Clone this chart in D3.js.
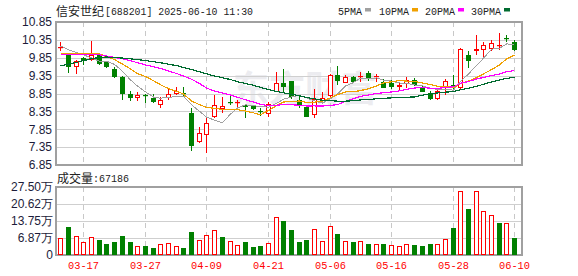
<!DOCTYPE html>
<html>
<head>
<meta charset="utf-8">
<title>信安世纪 日K</title>
<script src="https://d3js.org/d3.v7.min.js"></script>
<style>
  body { margin: 0; background: #fff; }
  svg { display: block; }
  .num { font-family: "Liberation Sans", Arial, sans-serif; font-size: 12px; fill: #1c1c3a; }
  .mono { font-family: "Liberation Mono", "DejaVu Sans Mono", monospace; font-size: 11px; fill: #222; }
  .cjk { font-family: "Noto Sans CJK SC", sans-serif; font-size: 12px; fill: #222; }
</style>
</head>
<body>
<div id="chart"></div>
<script>
// trading days shown
var dates = ["03-12","03-13","03-14","03-17","03-18","03-19","03-20","03-21","03-24","03-25",
  "03-26","03-27","03-28","03-31","04-01","04-02","04-03","04-07","04-08","04-09",
  "04-10","04-11","04-14","04-15","04-16","04-17","04-18","04-21","04-22","04-23",
  "04-24","04-25","04-28","04-29","04-30","05-06","05-07","05-08","05-09","05-12",
  "05-13","05-14","05-15","05-16","05-19","05-20","05-21","05-22","05-23","05-26",
  "05-27","05-28","05-29","05-30","06-03","06-04","06-05","06-06","06-09","06-10"];

var open = [10.14, 9.97, 9.58, 9.83, 9.78, 9.93, 9.72, 9.54, 9.32, 8.84,
  8.72, 8.82, 8.72, 8.53, 8.72, 8.84, 8.87, 8.31, 7.50, 7.68,
  8.20, 8.43, 8.61, 8.58, 8.53, 8.50, 8.35, 8.27, 8.90, 9.15,
  9.20, 8.67, 8.48, 8.25, 8.64, 8.79, 9.37, 9.15, 9.30, 9.30,
  9.41, 9.31, 9.18, 9.13, 9.02, 9.12, 9.22, 9.02, 8.86, 8.69,
  9.01, 9.08, 9.00, 9.94, 10.05, 10.08, 10.10, 10.17, 10.39, 10.29];
var high = [10.28, 9.99, 9.80, 9.88, 10.32, 9.95, 9.76, 9.60, 9.35, 8.92,
  8.88, 8.83, 8.83, 8.74, 8.98, 9.03, 9.02, 8.44, 7.90, 8.19,
  8.81, 8.74, 8.78, 8.67, 8.56, 8.53, 8.44, 8.62, 9.46, 9.53,
  9.21, 8.78, 8.49, 8.98, 8.90, 9.39, 9.63, 9.37, 9.34, 9.44,
  9.48, 9.39, 9.26, 9.23, 9.13, 9.30, 9.28, 9.09, 8.93, 8.94,
  9.26, 9.38, 10.13, 10.03, 10.49, 10.29, 10.34, 10.54, 10.49, 10.36];
var low = [10.04, 9.41, 9.40, 9.64, 9.77, 9.66, 9.57, 9.29, 8.67, 8.64,
  8.65, 8.59, 8.59, 8.44, 8.67, 8.81, 8.78, 7.24, 7.47, 7.19,
  8.16, 8.30, 8.53, 8.48, 8.16, 8.39, 8.23, 8.20, 8.90, 8.90,
  8.70, 8.45, 8.19, 8.16, 8.60, 8.76, 9.09, 9.13, 9.16, 9.18,
  9.20, 9.18, 8.99, 8.98, 8.92, 9.01, 9.07, 8.88, 8.67, 8.67,
  8.80, 8.98, 8.97, 9.57, 9.94, 9.85, 10.03, 10.06, 10.29, 10.03];
var close = [10.16, 9.60, 9.76, 9.79, 9.93, 9.68, 9.60, 9.32, 8.83, 8.72,
  8.81, 8.80, 8.60, 8.66, 8.84, 8.93, 8.85, 7.39, 7.75, 8.02,
  8.52, 8.49, 8.59, 8.60, 8.46, 8.41, 8.33, 8.55, 9.13, 9.02,
  8.76, 8.53, 8.20, 8.70, 8.72, 9.37, 9.21, 9.30, 9.18, 9.35,
  9.26, 9.33, 9.01, 9.04, 9.08, 9.22, 9.09, 8.90, 8.69, 8.93,
  9.19, 9.01, 10.10, 9.76, 10.10, 10.22, 10.27, 10.22, 10.37, 10.06];

// volume, in 万
var volume = [6.72, 11.27, 7.65, 5.10, 7.25, 6.04, 4.43, 5.23, 7.65, 5.23,
  3.62, 3.62, 2.82, 4.29, 4.70, 3.62, 2.82, 9.26, 5.90, 7.92,
  9.93, 7.25, 5.50, 3.89, 5.23, 3.34, 3.62, 4.70, 15.18, 13.69,
  10.07, 5.23, 6.04, 10.34, 5.50, 11.54, 8.46, 5.50, 5.23, 5.50,
  4.43, 4.43, 4.43, 3.89, 3.62, 4.43, 4.03, 3.62, 4.43, 4.43,
  6.44, 11.00, 25.77, 18.65, 25.77, 17.72, 16.10, 13.00, 12.88, 6.72];

var ma5Head = [10.18, 10.07, 10.00, 9.93];
var ma10Head = [9.97, 9.97, 9.97, 9.97, 9.97, 9.96, 9.88, 9.80, 9.67];
var ma20Head = [9.95, 9.95, 9.95, 9.94, 9.94, 9.93, 9.90, 9.86, 9.82, 9.77,
  9.71, 9.65, 9.60, 9.55, 9.48, 9.41, 9.34, 9.25, 9.13];
var ma30Head = [9.62, 9.67, 9.72, 9.77, 9.82, 9.86, 9.87, 9.86, 9.84, 9.82,
  9.80, 9.77, 9.74, 9.71, 9.67, 9.63, 9.58, 9.52, 9.46, 9.40,
  9.34, 9.29, 9.24, 9.18, 9.13, 9.08, 9.02, 8.96, 8.91];

var priceTicks = [6.85, 7.35, 7.85, 8.35, 8.85, 9.35, 9.85, 10.35, 10.85];
var volTicks = [0, 6.875, 13.75, 20.625, 27.5];
var volTickLabels = ["0", "6.87万", "13.75万", "20.62万", "27.50万"];
var dateTicks = ["03-17", "03-27", "04-09", "04-21", "05-06", "05-16", "05-28", "06-10"];
var maNames = ["5PMA", "10PMA", "20PMA", "30PMA"];
var lastVolume = "67186";

var maColors = ["#a0a0a0", "#f0a000", "#ff00ff", "#006b30"];
var UP = "#ff0000", DOWN = "#008000";

function movingAvg(n, head) {
  return close.map(function(c, i) {
    return i < n - 1 ? head[i] : d3.mean(close.slice(i - n + 1, i + 1));
  });
}
var maSeries = [movingAvg(5, ma5Head), movingAvg(10, ma10Head), movingAvg(20, ma20Head), movingAvg(30, ma30Head)];

var rows = dates.map(function(d, i) {
  return { date: d, o: open[i], h: high[i], l: low[i], c: close[i], v: volume[i],
    up: close[i] > open[i] || (close[i] === open[i] && i > 0 && close[i] >= close[i - 1]),
    volUp: i === 0 ? close[i] >= open[i] : close[i] >= close[i - 1] };
});

var W = 578, H = 276;
var left = 56, right = 522;
var pTop = 22, pBottom = 165;
var vTop = 187, vBottom = 255;

var svg = d3.select("#chart").append("svg")
  .attr("width", W).attr("height", H);

var x = d3.scaleBand().domain(dates).range([56.5, 518]).padding(0);
function cx(d) { return Math.round(x(d) + x.bandwidth() / 2); }
var y = d3.scaleLinear().domain([6.85, 10.85]).range([pBottom, pTop]);
var yv = d3.scaleLinear().domain([0, 27.5]).range([vBottom, vTop]);

// watermark
svg.append("text")
  .attr("x", 233).attr("y", 102)
  .attr("font-family", "Noto Sans CJK SC").attr("font-weight", "bold")
  .attr("font-size", 36).attr("fill", "#ececf0")
  .text("东方财富");

// horizontal grid
svg.append("g").selectAll("line").data(priceTicks.slice(1, -1)).enter().append("line")
  .attr("x1", left).attr("x2", right)
  .attr("y1", function(d) { return Math.round(y(d)) + 0.5; })
  .attr("y2", function(d) { return Math.round(y(d)) + 0.5; })
  .attr("stroke", "#cfcfcf");
svg.append("g").selectAll("line").data(volTicks.slice(1, -1)).enter().append("line")
  .attr("x1", left).attr("x2", right)
  .attr("y1", function(d) { return Math.round(yv(d)) + 0.5; })
  .attr("y2", function(d) { return Math.round(yv(d)) + 0.5; })
  .attr("stroke", "#cfcfcf");

// vertical dashed grid
[[pTop, pBottom], [vTop, vBottom]].forEach(function(p) {
  svg.append("g").selectAll("line").data(dateTicks).enter().append("line")
    .attr("x1", function(d) { return cx(d) + 0.5; })
    .attr("x2", function(d) { return cx(d) + 0.5; })
    .attr("y1", p[0]).attr("y2", p[1])
    .attr("stroke", "#c8c8c8").attr("stroke-dasharray", "5,4");
});

// frames
[[pTop, pBottom], [vTop, vBottom]].forEach(function(p) {
  svg.append("rect")
    .attr("x", left).attr("y", p[0])
    .attr("width", right - left).attr("height", p[1] - p[0])
    .attr("fill", "none").attr("stroke", "#a0a0a0").attr("stroke-width", 2);
});

// price labels
svg.append("g").selectAll("text").data(priceTicks).enter().append("text")
  .attr("class", "num")
  .attr("x", 52).attr("y", function(d) { return y(d); })
  .attr("dy", "0.36em").attr("text-anchor", "end")
  .text(function(d) { return d.toFixed(2); });

// volume labels
svg.append("g").selectAll("text").data(volTicks).enter().append("text")
  .attr("class", "num")
  .attr("x", 53).attr("y", function(d) { return yv(d); })
  .attr("dy", "0.36em").attr("text-anchor", "end")
  .text(function(d, i) { return volTickLabels[i]; });

// date labels
svg.append("g").selectAll("text").data(dateTicks).enter().append("text")
  .attr("class", "mono")
  .attr("x", function(d) { return cx(d) + 0.5; }).attr("y", 269)
  .attr("text-anchor", "middle").style("fill", "#ff0000")
  .attr("textLength", 31).attr("lengthAdjust", "spacingAndGlyphs")
  .text(function(d) { return d; });

// candles
var candles = svg.append("g").selectAll("g").data(rows).enter().append("g");
candles.append("line")
  .attr("x1", function(d) { return cx(d.date) + 0.5; })
  .attr("x2", function(d) { return cx(d.date) + 0.5; })
  .attr("y1", function(d) { return Math.round(y(d.h)); })
  .attr("y2", function(d) { return Math.round(y(d.l)); })
  .attr("stroke", function(d) { return d.up ? UP : DOWN; });
candles.each(function(d) {
  var g = d3.select(this);
  var c = cx(d.date);
  var top = Math.round(y(Math.max(d.o, d.c)));
  var bot = Math.round(y(Math.min(d.o, d.c)));
  var col = d.up ? UP : DOWN;
  if (bot - top <= 1) {
    g.append("rect").attr("x", c - 2).attr("y", top).attr("width", 5).attr("height", 1.2).attr("fill", col);
  } else if (d.up) {
    g.append("rect").attr("x", c - 1.5).attr("y", top + 0.5).attr("width", 4).attr("height", bot - top - 1)
      .attr("fill", "#fff").attr("stroke", col);
  } else {
    g.append("rect").attr("x", c - 2).attr("y", top).attr("width", 5).attr("height", bot - top).attr("fill", col);
  }
});

// moving averages
maSeries.forEach(function(s, k) {
  var line = d3.line()
    .x(function(v, i) { return cx(dates[i]) + 0.5; })
    .y(function(v) { return y(v); });
  svg.append("path").datum(s)
    .attr("d", line)
    .attr("fill", "none")
    .attr("shape-rendering", "crispEdges")
    .attr("stroke", maColors[k]).attr("stroke-width", k === 0 ? 1 : 1.2);
});

// volume bars
svg.append("g").selectAll("rect").data(rows).enter().append("rect")
  .attr("x", function(d) { return d.volUp ? cx(d.date) - 1.5 : cx(d.date) - 2; })
  .attr("y", function(d) { return Math.round(yv(d.v)) + (d.volUp ? 0.5 : 0); })
  .attr("width", function(d) { return d.volUp ? 4 : 5; })
  .attr("height", function(d) { return vBottom - Math.round(yv(d.v)) - (d.volUp ? 1 : 0); })
  .attr("fill", function(d) { return d.volUp ? "#fff" : DOWN; })
  .attr("stroke", function(d) { return d.volUp ? UP : "none"; });

// title
svg.append("text").attr("class", "cjk").attr("x", 56).attr("y", 15.5).text("信安世纪");
svg.append("text").attr("class", "mono").attr("x", 105).attr("y", 15)
  .attr("textLength", 148).attr("lengthAdjust", "spacingAndGlyphs")
  .text("[688201] 2025-06-10 11:30");

// legend
var legendX = [338, 379, 425, 471];
var legendW = [24, 30, 30, 30];
maNames.forEach(function(name, k) {
  svg.append("text").attr("class", "mono")
    .attr("x", legendX[k]).attr("y", 14.5)
    .attr("textLength", legendW[k]).attr("lengthAdjust", "spacingAndGlyphs")
    .text(name);
  svg.append("rect")
    .attr("x", legendX[k] + legendW[k] + 3).attr("y", 8)
    .attr("width", 6).attr("height", 3.5)
    .attr("fill", maColors[k]);
});

// volume caption
svg.append("text").attr("class", "cjk").attr("x", 57).attr("y", 182.5).text("成交量");
svg.append("text").attr("class", "mono").attr("x", 93).attr("y", 182)
  .attr("textLength", 36).attr("lengthAdjust", "spacingAndGlyphs")
  .text(":" + lastVolume);
</script>
</body>
</html>
